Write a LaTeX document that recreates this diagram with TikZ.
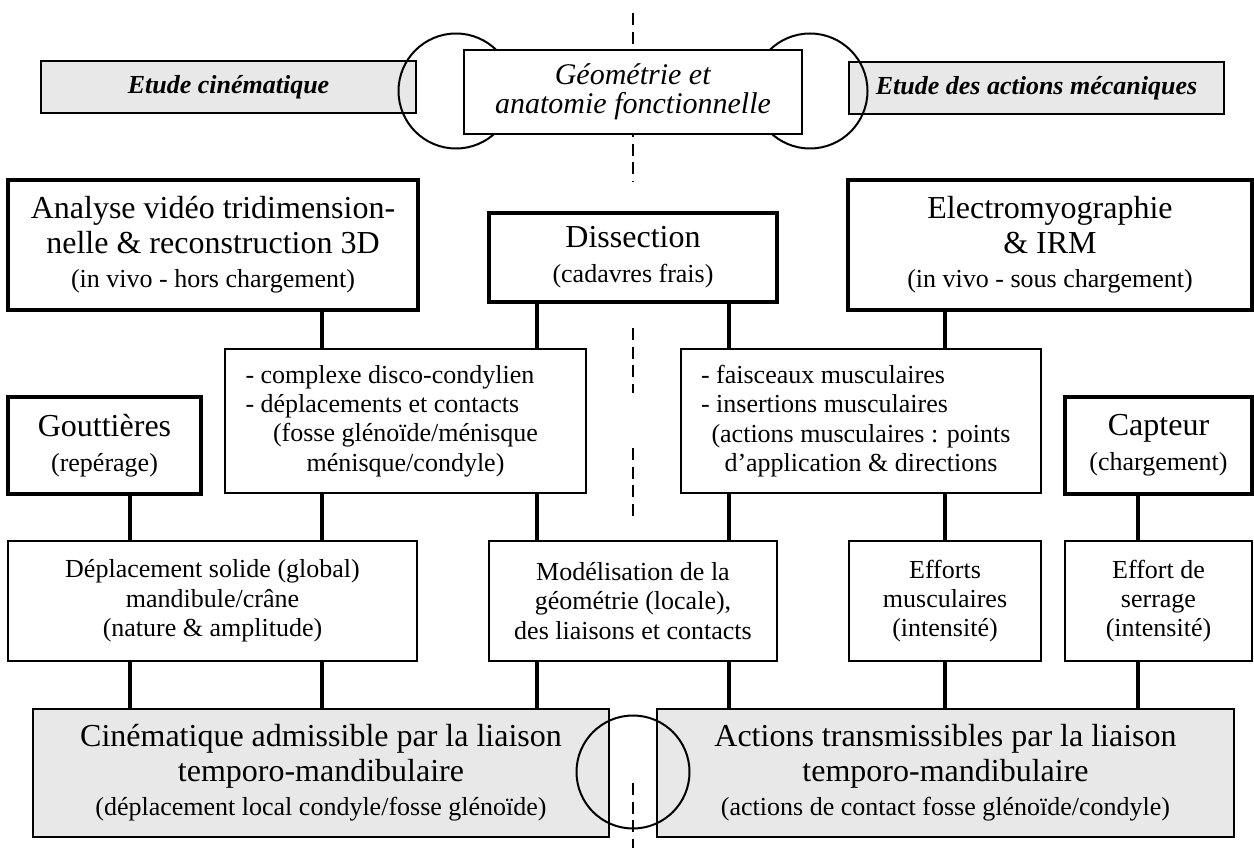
\documentclass[tikz,border=0pt]{standalone}
\usepackage{fontspec}
\setmainfont{Liberation Serif}
\definecolor{boxgray}{RGB}{232,232,232}
\newcommand{\txtbig}{\fontsize{24}{26}\selectfont}
\newcommand{\txtsmall}{\fontsize{19.5}{22}\selectfont}
\begin{document}
\begin{tikzpicture}[x=0.75pt,y=-0.75pt,
  sz/.style n args={2}{minimum width={#1*0.75pt},minimum height={#2*0.75pt}},
  base/.style={rectangle, inner sep=0pt, align=center, fill=white},
  thinbox/.style={base, draw, line width=1.5pt, font=\txtsmall},
  thickbox/.style={base, draw, line width=3.4pt, font=\txtbig},
  graybox/.style={base, draw, fill=boxgray, line width=2.2pt},
  link/.style={line width=2.6pt},
  axis/.style={line width=1.2pt, dash pattern=on 9pt off 5pt},
  ring/.style={circle, draw, line width=1.5pt, inner sep=0pt, minimum size={#1*0.75pt}},
]
\useasboundingbox (0,0) rectangle (1254,848);

% ---- study headings ----
\node[graybox, sz={375}{52}, font=\txtsmall] (etudeC) at (228.5,87)
  {\textbf{\textit{Etude cinématique}}};
\node[graybox, sz={375}{52}, font=\txtsmall] (etudeM) at (1036.5,88)
  {\textbf{\textit{Etude des actions mécaniques}}};
\node[ring=115] (ringL) at (456,91) {};
\node[ring=115] (ringR) at (810,91) {};

% symmetry axis, top part (behind the central box)
\coordinate (axA1) at (633,13);
\coordinate (axA2) at (633,182);
\draw[axis] (axA1) -- (axA2);

\node[base, draw, line width=1.5pt, sz={338}{84}, font=\fontsize{22.5}{21.5}\selectfont] (geom) at (633,92)
  {\textit{Géométrie et}\\\textit{anatomie fonctionnelle}};

% ---- methods ----
\node[thickbox, sz={410}{130}] (analyse) at (213,245)
  {Analyse vidéo tridimension-\\nelle \& reconstruction 3D\\\txtsmall (in vivo - hors chargement)};
\node[thickbox, sz={288}{89}] (dissection) at (633,257.5)
  {Dissection\\\txtsmall (cadavres frais)};
\node[thickbox, sz={404}{130}] (electro) at (1050,245)
  {Electromyographie\\\& IRM\\\txtsmall (in vivo - sous chargement)};
\node[thickbox, sz={193}{97}] (gouttieres) at (104.5,445.5)
  {Gouttières\\\txtsmall (repérage)};
\node[thickbox, sz={187}{97}] (capteur) at (1158.5,445.5)
  {Capteur\\\txtsmall (chargement)};

% ---- anatomical data ----
\node[thinbox, sz={361}{144}] (complexe) at (405.5,421)
  {\makebox[240pt][l]{- complexe disco-condylien}\\
   \makebox[240pt][l]{- déplacements et contacts}\\
   (fosse glénoïde/ménisque\\ménisque/condyle)};
\node[thinbox, sz={360}{144}] (faisceaux) at (861,421)
  {\makebox[240pt][l]{- faisceaux musculaires}\\
   \makebox[240pt][l]{- insertions musculaires}\\
   (actions musculaires : points\\d’application \& directions};

% ---- results ----
\node[thinbox, sz={409}{120}] (deplacement) at (212.5,601)
  {Déplacement solide (global)\\mandibule/crâne\\(nature \& amplitude)};
\node[thinbox, sz={288}{120}] (modelisation) at (633,601)
  {Modélisation de la\\géométrie (locale),\\des liaisons et contacts};
\node[thinbox, sz={192}{120}] (efforts) at (945,601)
  {Efforts\\musculaires\\(intensité)};
\node[thinbox, sz={187}{120}] (serrage) at (1158.5,601)
  {Effort de\\serrage\\(intensité)};

% ---- joint behaviour ----
\node[graybox, sz={576}{128}, font=\txtbig] (cinematique) at (321,773)
  {Cinématique admissible par la liaison\\temporo-mandibulaire\\\txtsmall (déplacement local condyle/fosse glénoïde)};
\node[graybox, sz={577}{128}, font=\txtbig] (actions) at (945.5,773)
  {Actions transmissibles par la liaison\\temporo-mandibulaire\\\txtsmall (actions de contact fosse glénoïde/condyle)};
\node[ring=113] (ringB) at (633,772) {};

% ---- connectors ----
\coordinate (c130) at (130,0);
\coordinate (c322) at (322,0);
\coordinate (c537) at (537,0);
\coordinate (c729) at (729,0);
\coordinate (c945) at (945,0);
\coordinate (c1138) at (1138,0);

\draw[link] (c322 |- analyse.south) -- (c322 |- complexe.north);
\draw[link] (c537 |- dissection.south) -- (c537 |- complexe.north);
\draw[link] (c729 |- dissection.south) -- (c729 |- faisceaux.north);
\draw[link] (c945 |- electro.south) -- (c945 |- faisceaux.north);

\draw[link] (c130 |- gouttieres.south) -- (c130 |- deplacement.north);
\draw[link] (c322 |- complexe.south) -- (c322 |- deplacement.north);
\draw[link] (c537 |- complexe.south) -- (c537 |- modelisation.north);
\draw[link] (c729 |- faisceaux.south) -- (c729 |- modelisation.north);
\draw[link] (c945 |- faisceaux.south) -- (c945 |- efforts.north);
\draw[link] (c1138 |- capteur.south) -- (c1138 |- serrage.north);

\draw[link] (c130 |- deplacement.south) -- (c130 |- cinematique.north);
\draw[link] (c322 |- deplacement.south) -- (c322 |- cinematique.north);
\draw[link] (c537 |- modelisation.south) -- (c537 |- cinematique.north);
\draw[link] (c729 |- modelisation.south) -- (c729 |- actions.north);
\draw[link] (c945 |- efforts.south) -- (c945 |- actions.north);
\draw[link] (c1138 |- serrage.south) -- (c1138 |- actions.north);

% ---- symmetry axis, remaining parts ----
\coordinate (axB1) at (633,328);
\coordinate (axB2) at (633,393);
\coordinate (axC1) at (633,448);
\coordinate (axC2) at (633,517);
\coordinate (axD1) at (633,783);
\coordinate (axD2) at (633,848);
\draw[axis] (axB1) -- (axB2);
\draw[axis] (axC1) -- (axC2);
\draw[axis] (axD1) -- (axD2);
\end{tikzpicture}
\end{document}
